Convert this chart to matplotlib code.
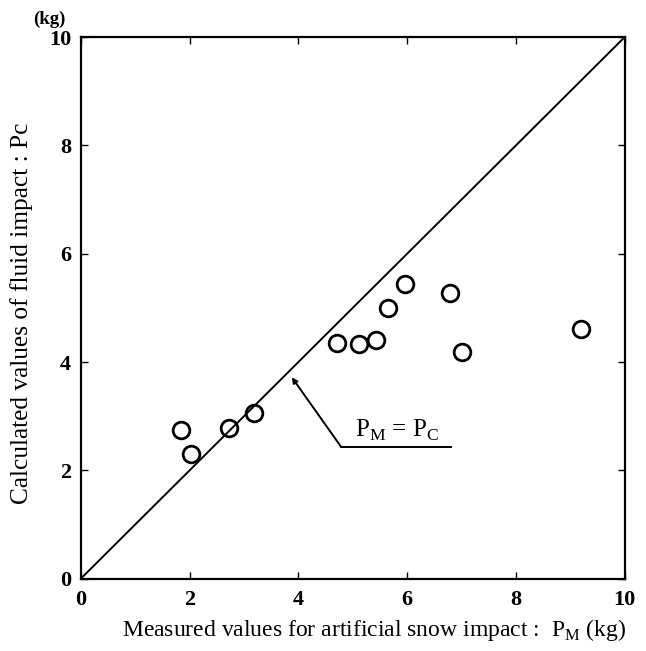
import matplotlib
matplotlib.use("Agg")
import matplotlib.pyplot as plt

pm = [1.85, 2.02, 2.73, 3.18, 4.71, 5.12, 5.42, 5.64, 5.97, 6.79, 7.01, 9.19]
pc = [2.74, 2.31, 2.79, 3.06, 4.35, 4.34, 4.40, 4.99, 5.44, 5.27, 4.18, 4.61]
ticks = [0, 2, 4, 6, 8, 10]
tick_labels = ["0", "2", "4", "6", "8", "10"]

plt.rcParams['font.family'] = ['Liberation Serif', 'DejaVu Serif']

fig = plt.figure(figsize=(6.46, 6.51), dpi=100)
ax = fig.add_axes([0.125, 0.111, 0.842, 0.832])

ax.plot([0, 10], [0, 10], color='black', lw=1.4)
ax.plot(pm, pc, linestyle='none', marker='o', markersize=12,
        markerfacecolor='none', markeredgecolor='black', markeredgewidth=2.0)

ax.set_xlim(0, 10)
ax.set_ylim(0, 10)
ax.set_xticks(ticks)
ax.set_yticks(ticks)
ax.set_xticklabels(tick_labels, fontsize=16, fontweight='bold')
ax.set_yticklabels(tick_labels, fontsize=16, fontweight='bold')
ax.tick_params(direction='in', length=5, width=1, top=True, right=True)
ax.tick_params(axis='x', pad=8)
ax.tick_params(axis='y', pad=7)
for s in ax.spines.values():
    s.set_linewidth(1.6)

ax.set_xlabel("Measured values for artificial snow impact :  P$_\\mathregular{M}$ (kg)",
              fontsize=17)
ax.xaxis.set_label_coords(0.54, -0.07)
ax.set_ylabel("Calculated values of fluid impact : Pc", fontsize=18.3)
ax.yaxis.set_label_coords(-0.087, 0.49)
fig.text(0.076, 0.971, "(kg)", fontsize=13.5, fontweight='bold', ha='center', va='center')

# annotation P_M = P_C
ax.annotate("", xy=(3.88, 3.72), xytext=(4.79, 2.43),
            arrowprops=dict(arrowstyle='-|>', color='black', lw=1.4,
                            mutation_scale=8, shrinkA=0, shrinkB=0))
ax.plot([4.79, 6.81], [2.43, 2.43], color='black', lw=1.4)
ax.text(5.82, 2.5, "P$_\\mathregular{M}$ = P$_\\mathregular{C}$", fontsize=18,
        ha='center', va='bottom')

fig.savefig("out.png", dpi=100)
